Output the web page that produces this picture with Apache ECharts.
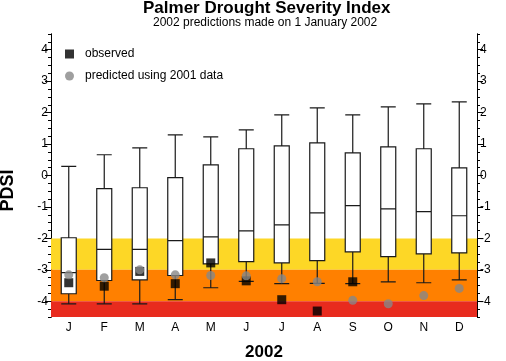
<!DOCTYPE html>
<html>
<head>
<meta charset="utf-8">
<script src="https://cdn.jsdelivr.net/npm/echarts@6/dist/echarts.min.js"></script>
<style>
html,body{margin:0;padding:0;background:#fff;}
#chart{width:506px;height:361px;}
</style>
</head>
<body>
<div id="chart"></div>
<script>
const months = ['J','F','M','A','M','J','J','A','S','O','N','D'];
const boxMin    = [-4.08,-4.08,-4.08,-3.95,-3.57,-3.37,-3.44,-3.43,-3.44,-3.38,-3.41,-3.32];
const boxQ1     = [-3.76,-3.34,-3.32,-3.18,-2.81,-2.74,-2.78,-2.71,-2.43,-2.58,-2.49,-2.46];
const boxMedian = [-3.09,-2.35,-2.35,-2.07,-1.95,-1.76,-1.57,-1.19,-0.96,-1.06,-1.15,-1.28];
const boxQ3     = [-1.98,-0.42,-0.39,-0.07,0.34,0.85,0.94,1.04,0.72,0.91,0.85,0.24];
const boxMax    = [0.29,0.66,0.88,1.29,1.23,1.45,1.93,2.15,1.93,2.18,2.28,2.34];
const observed  = [-3.41,-3.52,-3.05,-3.44,-2.78,-3.35,-3.95,-4.31,-3.38,null,null,null];
const predicted = [-3.16,-3.25,-3.00,-3.16,-3.18,-3.19,-3.28,-3.38,-3.97,-4.08,-3.82,-3.59];
const yMajorTicks = [-4,-3,-2,-1,0,1,2,3,4];
const yMinorTicks = [-4.5,-4.25,-4,-3.75,-3.5,-3.25,-3,-2.75,-2.5,-2.25,-2,-1.75,-1.5,-1.25,-1,-0.75,-0.5,-0.25,0,0.25,0.5,0.75,1,1.25,1.5,1.75,2,2.25,2.5,2.75,3,3.25,3.5,3.75,4,4.25,4.5];
const bands = [
  {from: -3, to: -2, color: '#FDD726'},
  {from: -4, to: -3, color: '#FF8000'},
  {from: -4.5, to: -4, color: '#E82B1E'}
];
const FONT = 'Liberation Sans, Arial, Helvetica, sans-serif';

const boxData = months.map((m,i)=>[boxMin[i],boxQ1[i],boxMedian[i],boxQ3[i],boxMax[i]]);

function yAxisDef(pos, major){
  return {
    type:'value', position:pos, min:-4.5, max:4.5,
    splitLine:{show:false},
    axisLine:{show:true, onZero:false, lineStyle:{color:'#000', width:1}},
    axisTick:{show:true, inside:false, length: major?6:3, customValues: major?yMajorTicks:yMinorTicks, lineStyle:{color:'#000', width:1}},
    axisLabel:{show:major, customValues: yMajorTicks, margin:3, color:'#000', fontSize:12, fontFamily:FONT},
    name: (pos==='left' && major) ? 'PDSI' : '',
    nameLocation:'middle', nameGap:34, nameRotate:90,
    nameTextStyle:{fontSize:18, fontWeight:'bold', color:'#000', fontFamily:FONT, padding:[0,30,0,0]}
  };
}

const chart = echarts.init(document.getElementById('chart'), null, {renderer:'canvas'});
chart.setOption({
  animation:false,
  backgroundColor:'#fff',
  title:[
    {text:'Palmer Drought Severity Index', left:143, top:0, padding:0,
     textStyle:{fontSize:17, fontWeight:'bold', color:'#000', fontFamily:FONT}},
    {text:'2002 predictions made on 1 January 2002', left:153, top:17, padding:0,
     textStyle:{fontSize:12, fontWeight:'normal', color:'#000', fontFamily:FONT}}
  ],
  legend:{
    orient:'vertical', left:65, top:47, padding:0, itemWidth:9, itemHeight:9, itemGap:8,
    textStyle:{fontSize:12, color:'#000', fontFamily:FONT, padding:[0,0,0,6], lineHeight:14},
    data:[{name:'observed', icon:'rect'},{name:'predicted using 2001 data', icon:'circle'}]
  },
  grid:{left:51, right:29, top:34, bottom:44, containLabel:false, outerBoundsMode:'none'},
  xAxis:{
    type:'category', data:months, boundaryGap:true,
    axisLine:{show:false}, axisTick:{show:false},
    axisLabel:{color:'#000', fontSize:12, fontFamily:FONT, margin:5},
    name:'2002', nameLocation:'middle', nameGap:27,
    nameTextStyle:{fontSize:17, fontWeight:'bold', color:'#000', fontFamily:FONT}
  },
  yAxis:[yAxisDef('left',true), yAxisDef('left',false), yAxisDef('right',true), yAxisDef('right',false)],
  series:[
    {
      type:'boxplot', name:'PDSI spread', data:boxData, yAxisIndex:0,
      boxWidth:[15,15],
      itemStyle:{color:'#fff', borderColor:'#1a1a1a', borderWidth:1.2},
      emphasis:{disabled:true},
      markArea:{silent:true, data: bands.map(b=>[{yAxis:b.from, itemStyle:{color:b.color}},{yAxis:b.to}])}
    },
    {
      type:'scatter', name:'observed', data:observed, yAxisIndex:0,
      symbol:'rect', symbolSize:9, itemStyle:{color:'#000'}, z:3
    },
    {
      type:'scatter', name:'predicted using 2001 data', data:predicted, yAxisIndex:0,
      symbol:'circle', symbolSize:9, itemStyle:{color:'#878787'}, z:4
    }
  ]
});
</script>
</body>
</html>
